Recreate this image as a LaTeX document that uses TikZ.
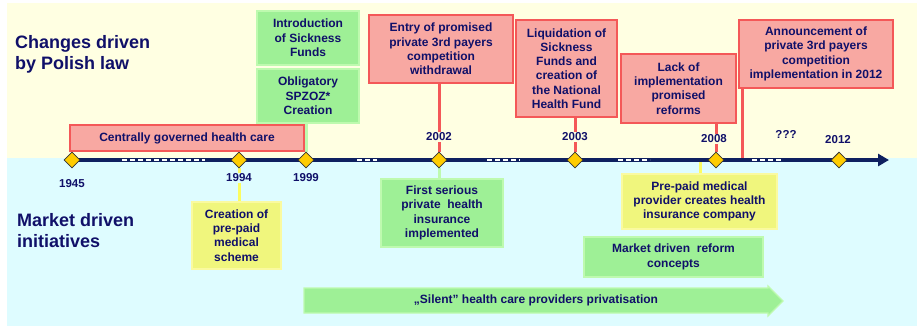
\documentclass[tikz,border=0pt]{standalone}
\usepackage{fontspec}
\setmainfont{Liberation Sans}
\usetikzlibrary{shapes.geometric,arrows.meta}

\definecolor{navytxt}{RGB}{16,16,105}
\definecolor{axisblue}{RGB}{14,32,96}
\definecolor{topbg}{RGB}{255,255,226}
\definecolor{lowbg}{RGB}{222,252,255}
\definecolor{redfill}{RGB}{248,168,162}
\definecolor{rededge}{RGB}{244,88,88}
\definecolor{greenfill}{RGB}{158,240,150}
\definecolor{greenedge}{RGB}{190,250,175}
\definecolor{yellowfill}{RGB}{240,246,125}
\definecolor{yellowedge}{RGB}{250,250,160}
\definecolor{gold}{RGB}{255,204,0}

\pgfdeclarelayer{back}
\pgfdeclarelayer{wires}
\pgfsetlayers{back,wires,main}

\tikzset{
  box/.style={align=center,inner sep=0pt,text=navytxt,line width=1.2pt,
    font=\fontsize{12}{14.3}\selectfont\bfseries},
  redbox/.style={box,fill=redfill,draw=rededge},
  greenbox/.style={box,fill=greenfill,draw=greenedge},
  yellowbox/.style={box,fill=yellowfill,draw=yellowedge},
  year/.style={inner sep=1pt,text=navytxt,fill=topbg,
    font=\fontsize{11.5}{13}\selectfont\bfseries},
  milestone/.style={diamond,aspect=1,minimum size=16pt,inner sep=0pt,
    fill=gold,draw=black!80,line width=0.8pt},
  title/.style={align=left,anchor=north west,inner sep=0pt,text=navytxt,
    font=\fontsize{18}{21}\selectfont\bfseries},
  redwire/.style={draw=rededge,line width=3pt},
  greenwire/.style={draw=greenedge,line width=3pt},
  yellowwire/.style={draw=yellowedge!60!yellow,line width=3pt},
  axisline/.style={draw=axisblue,line width=4pt,-{Triangle[length=11pt,width=12pt]}},
  axisgap/.style={draw=white,line width=2.4pt,dash pattern=on 5pt off 3pt}
}

\begin{document}
\begin{tikzpicture}[x=1pt,y=-1pt]
\useasboundingbox (0,0) rectangle (917,327);

% Two bands behind everything
\begin{pgfonlayer}{back}
\fill[topbg] (7,3) rectangle (917,158);
\fill[lowbg] (7,158) rectangle (917,326);
\end{pgfonlayer}

% Band titles
\node[title] (lawtitle) at (15,35) {Changes driven\\by Polish law};
\node[title] (markettitle) at (17,213) {Market driven\\initiatives};

% Milestones on the time axis
\node[milestone] (d1945) at (72,160) {};
\node[milestone] (d1994) at (239,160) {};
\node[milestone] (d1999) at (306,160) {};
\node[milestone] (d2002) at (439,160) {};
\node[milestone] (d2003) at (575,160) {};
\node[milestone] (d2008) at (716,160) {};
\node[milestone] (d2012) at (839,160) {};
\coordinate (axisend) at (889,160);

% Years
\node[year,fill=lowbg] (y1945) at (72,184) {1945};
\node[year,fill=lowbg] (y1994) at (239,178) {1994};
\node[year,fill=lowbg] (y1999) at (306,178) {1999};
\node[year] (y2002) at (439,137) {2002};
\node[year] (y2003) at (575,137) {2003};
\node[year] (y2008) at (714,139) {2008};
\node[year] (yqqq) at (786,134) {???};
\node[year] (y2012) at (838,140) {2012};

% Changes driven by law
\node[redbox,minimum width=234pt,minimum height=26pt] (central) at (187,138)
  {Centrally governed health care};
\node[greenbox,minimum width=102pt,minimum height=54pt] (sickness) at (308,38)
  {Introduction\\of Sickness\\Funds};
\node[greenbox,minimum width=102pt,minimum height=54pt] (spzoz) at (308,96)
  {Obligatory\\SPZOZ*\\Creation};
\node[redbox,minimum width=144pt,minimum height=68pt] (withdrawal) at (441,49)
  {Entry of promised\\private 3rd payers\\competition\\withdrawal};
\node[redbox,minimum width=101pt,minimum height=97pt] (nhf) at (566.5,68.5)
  {Liquidation of\\Sickness\\Funds and\\creation of\\the National\\Health Fund};
\node[redbox,minimum width=115pt,minimum height=69pt] (reforms) at (678.5,88.5)
  {Lack of\\implementation\\promised\\reforms};
\node[redbox,minimum width=154pt,minimum height=68pt] (announce) at (816,54)
  {Announcement of\\private 3rd payers\\competition\\implementation in 2012};
\coordinate (annfoot) at (742,158);

% Market driven initiatives
\node[yellowbox,minimum width=89pt,minimum height=67pt] (scheme) at (236.5,235.5)
  {Creation of\\pre-paid\\medical\\scheme};
\node[greenbox,minimum width=122pt,minimum height=68pt] (firstins) at (442,213)
  {First serious\\private\ \ health\\insurance\\implemented};
\node[yellowbox,minimum width=155pt,minimum height=55pt] (insco) at (699.5,201.5)
  {Pre-paid medical\\provider creates health\\insurance company};
\coordinate (inscofoot) at (700,162);
\node[greenbox,minimum width=179pt,minimum height=40pt] (concepts) at (673.5,257)
  {Market driven\ \ reform\\concepts};

% Privatisation arrow
\filldraw[fill=greenfill,draw=greenedge,line width=1.2pt]
  (304,288) -- (768,288) -- (768,286) -- (783,301) -- (768,316) -- (768,313) -- (304,313) -- cycle;
\node[box] (silent) at (536,300.5) {„Silent” health care providers privatisation};

% Axis and connectors
\begin{pgfonlayer}{wires}
\draw[axisline] (d1945.center) -- (axisend);
\foreach \a/\b in {122/205,357/377,487/520,618/650,752/782}
  \draw[axisgap] (\a,160) -- (\b,160);
\draw[greenwire] (d1999.north |- spzoz.south) -- (d1999.north);
\draw[redwire] (d2002.north |- withdrawal.south) -- (d2002.north);
\draw[redwire] (d2003.north |- nhf.south) -- (d2003.north);
\draw[redwire] (d2008.north |- reforms.south) -- (d2008.north);
\draw[redwire] (annfoot |- announce.south) -- (annfoot);
\draw[yellowwire] (d1994.south) -- (d1994.south |- scheme.north);
\draw[greenwire] (d2002.south) -- (d2002.south |- firstins.north);
\draw[yellowwire] (inscofoot) -- (inscofoot |- insco.north);
\end{pgfonlayer}

\end{tikzpicture}
\end{document}
